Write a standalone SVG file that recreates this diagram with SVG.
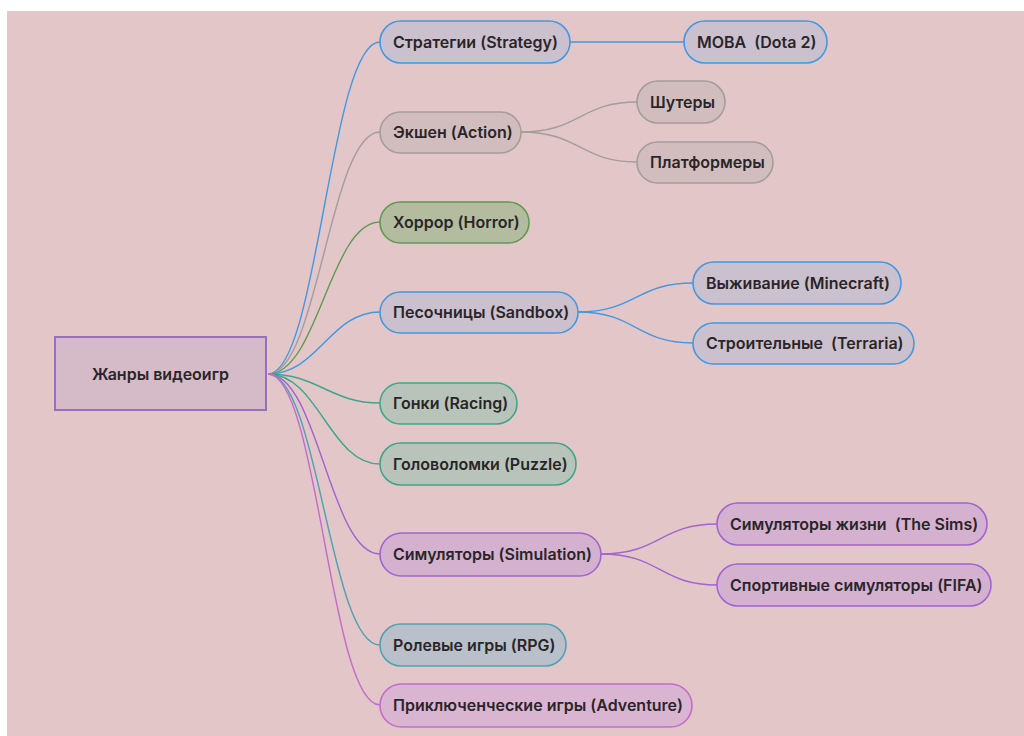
<svg xmlns="http://www.w3.org/2000/svg" width="1024" height="736" viewBox="0 0 1024 736">
<style>
text{font-family:Inter,"Noto Sans",sans-serif;font-size:16px;font-weight:600;fill:#2a2528;dominant-baseline:central;white-space:pre}
.n{stroke-width:1.6}
.blue{fill:#cbc0cd;stroke:#4298e2}
.gray{fill:#d2bdbe;stroke:#a59c9c}
.green{fill:#b3bc9f;stroke:#5f9a50}
.teal{fill:#b8c4b9;stroke:#3ea68c}
.purple{fill:#d3b1cf;stroke:#a263d2}
.rpg{fill:#b9c0c9;stroke:#4da2b4}
.adv{fill:#dab5d2;stroke:#c46ccc}
.c{fill:none;stroke-width:1.4}
</style>
<rect x="0" y="0" width="1024" height="736" fill="#ffffff"/>
<rect x="7" y="11" width="1017" height="725" fill="#e2c6c8"/>
<g id="connectors">
<path class="c" stroke="#4298e2" d="M268,374 C318,374 330,42 380,42"/>
<path class="c" stroke="#a59c9c" d="M268,374 C318,374 330,132 380,132"/>
<path class="c" stroke="#5f9a50" d="M268,374 C318,374 330,222 380,222"/>
<path class="c" stroke="#4298e2" d="M268,374 C318,374 330,312 380,312"/>
<path class="c" stroke="#3ea68c" d="M268,374 C318,374 330,403 380,403"/>
<path class="c" stroke="#3ea68c" d="M268,374 C318,374 330,464 380,464"/>
<path class="c" stroke="#a263d2" d="M268,374 C318,374 330,554 380,554"/>
<path class="c" stroke="#4da2b4" d="M268,374 C318,374 330,645 380,645"/>
<path class="c" stroke="#c46ccc" d="M268,374 C318,374 330,705 380,705"/>
<path class="c" stroke="#4298e2" d="M570,42 L684,42"/>
<path class="c" stroke="#a59c9c" d="M521,132 C580,132 580,102 637,102"/>
<path class="c" stroke="#a59c9c" d="M521,132 C580,132 580,162 637,162"/>
<path class="c" stroke="#4298e2" d="M578,312 C636,312 636,283 693,283"/>
<path class="c" stroke="#4298e2" d="M578,312 C636,312 636,343 693,343"/>
<path class="c" stroke="#a263d2" d="M601,554 C660,554 660,524 717,524"/>
<path class="c" stroke="#a263d2" d="M601,554 C660,554 660,585 717,585"/>
</g>
<g id="root"><rect x="55" y="337" width="211" height="73" fill="#d5bac7" stroke="#9a6cc2" stroke-width="2"/><text x="160.5" y="374" text-anchor="middle" font-weight="500">Жанры видеоигр</text></g>
<g id="strategy"><rect class="n blue" x="380" y="21" width="190" height="42" rx="21"/><text x="393" y="42">Стратегии (Strategy)</text></g>
<g id="moba"><rect class="n blue" x="684" y="21" width="143" height="42" rx="21"/><text x="697" y="42" xml:space="preserve">MOBA  (Dota 2)</text></g>
<g id="action"><rect class="n gray" x="380" y="112" width="141" height="41" rx="20.5"/><text x="393" y="132">Экшен (Action)</text></g>
<g id="shooters"><rect class="n gray" x="637" y="81" width="88" height="42" rx="21"/><text x="650" y="102">Шутеры</text></g>
<g id="platformers"><rect class="n gray" x="637" y="142" width="136" height="41" rx="20.5"/><text x="650" y="162">Платформеры</text></g>
<g id="horror"><rect class="n green" x="380" y="202" width="149" height="41" rx="20.5"/><text x="393" y="222">Хоррор (Horror)</text></g>
<g id="sandbox"><rect class="n blue" x="380" y="292" width="198" height="41" rx="20.5"/><text x="393" y="312">Песочницы (Sandbox)</text></g>
<g id="minecraft"><rect class="n blue" x="693" y="262" width="208" height="42" rx="21"/><text x="706" y="283">Выживание (Minecraft)</text></g>
<g id="terraria"><rect class="n blue" x="693" y="323" width="221" height="41" rx="20.5"/><text x="706" y="343" xml:space="preserve">Строительные  (Terraria)</text></g>
<g id="racing"><rect class="n teal" x="380" y="383" width="137" height="41" rx="20.5"/><text x="393" y="403">Гонки (Racing)</text></g>
<g id="puzzle"><rect class="n teal" x="380" y="443" width="196" height="42" rx="21"/><text x="393" y="464">Головоломки (Puzzle)</text></g>
<g id="simulation"><rect class="n purple" x="380" y="533" width="221" height="43" rx="21.5"/><text x="393" y="554">Симуляторы (Simulation)</text></g>
<g id="sims"><rect class="n purple" x="717" y="503" width="270" height="42" rx="21"/><text x="730" y="524" xml:space="preserve">Симуляторы жизни  (The Sims)</text></g>
<g id="fifa"><rect class="n purple" x="717" y="564" width="274" height="42" rx="21"/><text x="730" y="585">Спортивные симуляторы (FIFA)</text></g>
<g id="rpg"><rect class="n rpg" x="380" y="624" width="186" height="42" rx="21"/><text x="393" y="645">Ролевые игры (RPG)</text></g>
<g id="adventure"><rect class="n adv" x="380" y="684" width="312" height="43" rx="21.5"/><text x="393" y="705">Приключенческие игры (Adventure)</text></g>
</svg>
